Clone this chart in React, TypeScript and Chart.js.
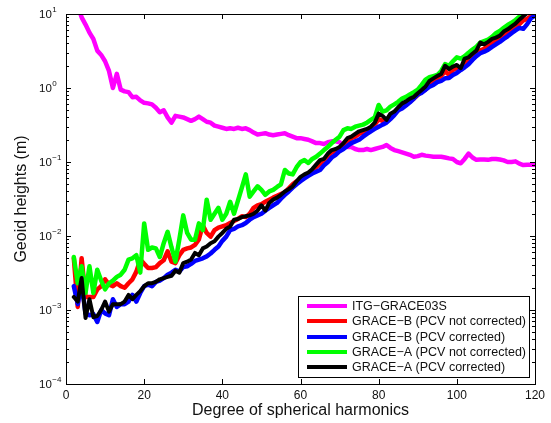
import React, { useEffect, useRef } from "react";
import { Chart, registerables } from "chart.js";

Chart.register(...registerables);

// Degree of spherical harmonics (x categories)
const degrees: number[] = Array.from({ length: 119 }, (_, i) => i + 2);

// ITG-GRACE03S
const itgGrace03s: number[] = [
  20, 13, 9, 7.2, 5.6, 4.6, 3.2, 2.8, 2.3, 1.7,
  1.0, 1.55, 0.95, 0.9, 0.88, 0.75, 0.76, 0.68, 0.63, 0.62,
  0.6, 0.54, 0.47, 0.5, 0.4, 0.34, 0.42, 0.41, 0.4, 0.38,
  0.36, 0.38, 0.41, 0.38, 0.35, 0.34, 0.31, 0.3, 0.29, 0.28,
  0.285, 0.28, 0.29, 0.28, 0.285, 0.27, 0.25, 0.235, 0.24, 0.245,
  0.235, 0.23, 0.235, 0.24, 0.245, 0.23, 0.22, 0.21, 0.21, 0.205,
  0.2, 0.19, 0.18, 0.18, 0.175, 0.185, 0.19, 0.19, 0.185, 0.165,
  0.16, 0.16, 0.15, 0.145, 0.145, 0.15, 0.145, 0.15, 0.155, 0.16,
  0.17, 0.155, 0.145, 0.14, 0.135, 0.13, 0.125, 0.118, 0.12, 0.125,
  0.122, 0.12, 0.118, 0.118, 0.118, 0.115, 0.112, 0.11, 0.1, 0.096,
  0.11, 0.13, 0.115, 0.107, 0.108, 0.108, 0.107, 0.11, 0.11, 0.108,
  0.105, 0.1, 0.1, 0.102, 0.095, 0.091, 0.092, 0.092, 0.092,
];

// GRACE-B (PCV not corrected)
const graceBNotCorrected: number[] = [
  0.005, 0.0011, 0.005, 0.0015, 0.0015, 0.0015, 0.0019, 0.0021, 0.0026, 0.0022,
  0.0021, 0.0023, 0.0021, 0.002, 0.0023, 0.0026, 0.0033, 0.0048, 0.0042, 0.0037,
  0.0037, 0.0038, 0.0043, 0.0047, 0.0062, 0.0045, 0.0043, 0.0055, 0.0065, 0.0068,
  0.007, 0.0076, 0.009, 0.014, 0.011, 0.0098, 0.012, 0.013, 0.0135, 0.014,
  0.015, 0.016, 0.017, 0.0185, 0.018, 0.02, 0.024, 0.026, 0.027, 0.029,
  0.031, 0.033, 0.035, 0.037, 0.039, 0.044, 0.05, 0.055, 0.058, 0.062,
  0.068, 0.072, 0.085, 0.095, 0.105, 0.12, 0.135, 0.14, 0.15, 0.17,
  0.19, 0.21, 0.22, 0.24, 0.25, 0.27, 0.29, 0.32, 0.38, 0.36,
  0.36, 0.42, 0.45, 0.5, 0.58, 0.6, 0.66, 0.72, 0.8, 0.9,
  0.95, 1.1, 1.2, 1.35, 1.45, 1.7, 1.5, 1.75, 1.85, 1.8,
  2.2, 2.35, 2.6, 2.8, 3.2, 3.4, 3.8, 4.1, 4.4, 4.7,
  5.3, 5.6, 6.2, 6.8, 7.3, 8.2, 8.6, 9.4, 10.5,
];

// GRACE-B (PCV corrected)
const graceBCorrected: number[] = [
  0.0021, 0.0012, 0.0022, 0.0009, 0.00085, 0.00088, 0.00069, 0.001, 0.0009, 0.00085,
  0.0014, 0.0011, 0.0012, 0.0012, 0.0013, 0.0016, 0.0013, 0.0017, 0.0021, 0.0022,
  0.0021, 0.0024, 0.0025, 0.0027, 0.003, 0.0032, 0.0035, 0.0033, 0.0038, 0.0039,
  0.0042, 0.0046, 0.0048, 0.005, 0.0053, 0.0058, 0.0065, 0.0072, 0.0086, 0.0098,
  0.012, 0.0125, 0.0135, 0.014, 0.015, 0.0166, 0.018, 0.019, 0.02, 0.022,
  0.024, 0.026, 0.028, 0.032, 0.036, 0.04, 0.045, 0.05, 0.055, 0.06,
  0.065, 0.07, 0.074, 0.078, 0.09, 0.1, 0.115, 0.125, 0.14, 0.15,
  0.165, 0.18, 0.19, 0.2, 0.22, 0.24, 0.26, 0.28, 0.3, 0.32,
  0.34, 0.38, 0.43, 0.5, 0.53, 0.58, 0.64, 0.72, 0.82, 0.86,
  0.95, 1.04, 1.1, 1.2, 1.25, 1.35, 1.36, 1.5, 1.6, 1.75,
  1.9, 2.1, 2.4, 2.7, 2.95, 3.1, 3.3, 3.6, 3.9, 4.2,
  4.6, 5.0, 5.5, 6.0, 6.5, 6.3, 7.3, 8.8, 9.5,
];

// GRACE-A (PCV not corrected)
const graceANotCorrected: number[] = [
  0.0052, 0.0023, 0.0039, 0.0017, 0.0039, 0.0017, 0.0035, 0.0025, 0.0019, 0.0023,
  0.0025, 0.0028, 0.003, 0.0035, 0.0048, 0.005, 0.0055, 0.0032, 0.0148, 0.0065,
  0.007, 0.0068, 0.0052, 0.008, 0.0114, 0.007, 0.0045, 0.009, 0.019, 0.011,
  0.0089, 0.0089, 0.0148, 0.012, 0.031, 0.0166, 0.02, 0.024, 0.0166, 0.02,
  0.029, 0.02, 0.03, 0.045, 0.068, 0.034, 0.04, 0.047, 0.042, 0.036,
  0.04, 0.042, 0.046, 0.05, 0.078, 0.07, 0.068, 0.085, 0.1, 0.106,
  0.097, 0.11, 0.118, 0.13, 0.145, 0.16, 0.18, 0.2, 0.22, 0.27,
  0.285, 0.28, 0.3, 0.31, 0.32, 0.34, 0.37, 0.4, 0.59, 0.48,
  0.5, 0.56, 0.6, 0.65, 0.72, 0.76, 0.82, 0.88, 0.95, 1.1,
  1.3, 1.4, 1.45, 1.5, 1.7, 2.1, 2.0, 2.3, 2.6, 2.5,
  2.7, 3.0, 3.3, 3.6, 4.1, 4.3, 4.5, 4.9, 5.5, 5.9,
  6.5, 7.1, 7.6, 8.3, 9.2, 10.2, 11, 12, 13,
];

// GRACE-A (PCV corrected)
const graceACorrected: number[] = [
  0.0015, 0.0013, 0.0027, 0.00078, 0.0014, 0.0008, 0.00083, 0.001, 0.0013, 0.00095,
  0.0012, 0.0012, 0.0012, 0.0013, 0.0016, 0.0014, 0.0016, 0.0018, 0.0021, 0.0023,
  0.0023, 0.0024, 0.0026, 0.0027, 0.0028, 0.0029, 0.0034, 0.0032, 0.0043, 0.0045,
  0.0048, 0.0059, 0.0055, 0.0068, 0.0072, 0.008, 0.0085, 0.0098, 0.011, 0.0125,
  0.0134, 0.0166, 0.017, 0.018, 0.0185, 0.019, 0.02, 0.022, 0.026, 0.022,
  0.028, 0.031, 0.033, 0.036, 0.04, 0.043, 0.047, 0.055, 0.063, 0.068,
  0.072, 0.08, 0.092, 0.106, 0.11, 0.13, 0.145, 0.15, 0.16, 0.18,
  0.21, 0.22, 0.24, 0.26, 0.27, 0.28, 0.3, 0.34, 0.45, 0.42,
  0.37, 0.45, 0.48, 0.55, 0.62, 0.66, 0.72, 0.76, 0.85, 0.94,
  1.05, 1.25, 1.35, 1.45, 1.55, 2.0, 1.8, 1.95, 2.05, 1.85,
  2.5, 2.6, 2.9, 3.2, 4.1, 3.9, 4.2, 4.6, 4.8, 5.1,
  5.8, 6.2, 6.8, 7.4, 8.4, 9.3, 10.3, 11, 12,
];

const seriesLabels: string[] = [
  "ITG\u2212GRACE03S",
  "GRACE\u2212B (PCV not corrected)",
  "GRACE\u2212B (PCV corrected)",
  "GRACE\u2212A (PCV not corrected)",
  "GRACE\u2212A (PCV corrected)",
];
const seriesValues: number[][] = [
  itgGrace03s,
  graceBNotCorrected,
  graceBCorrected,
  graceANotCorrected,
  graceACorrected,
];
const seriesColors: string[] = ["#ff00ff", "#ff0000", "#0000ff", "#00ff00", "#000000"];

const xTicks: number[] = [0, 20, 40, 60, 80, 100, 120];
const yExponents: number[] = [-4, -3, -2, -1, 0, 1];
const xTitle = "Degree of spherical harmonics";
const yTitle = "Geoid heights (m)";

const FONT = '"Liberation Sans", Arial, Helvetica, sans-serif';

const matlabPlugin = {
  id: "matlabAxes",
  afterDatasetsDraw(chart: any) {
    const ctx = chart.ctx as CanvasRenderingContext2D;
    const { left, right, top, bottom } = chart.chartArea;
    const xs = chart.scales.x;
    const ys = chart.scales.y;
    ctx.save();
    ctx.strokeStyle = "#000";
    ctx.lineWidth = 1;
    // box
    ctx.strokeRect(Math.round(left) + 0.5, Math.round(top) + 0.5, Math.round(right - left), Math.round(bottom - top));
    // x ticks (bottom + top)
    ctx.beginPath();
    xTicks.forEach((v) => {
      const px = Math.round(xs.getPixelForValue(v)) + 0.5;
      ctx.moveTo(px, bottom);
      ctx.lineTo(px, bottom - 5);
      ctx.moveTo(px, top);
      ctx.lineTo(px, top + 5);
    });
    // y ticks major + minor (left + right)
    yExponents.forEach((e) => {
      for (let m = 1; m <= 9; m++) {
        const val = m * Math.pow(10, e);
        if (val > 10 + 1e-9 || val < 1e-4 - 1e-12) continue;
        const py = Math.round(ys.getPixelForValue(val)) + 0.5;
        const len = m === 1 ? 5 : 3;
        ctx.moveTo(left, py);
        ctx.lineTo(left + len, py);
        ctx.moveTo(right, py);
        ctx.lineTo(right - len, py);
      }
    });
    ctx.stroke();

    // x tick labels
    ctx.fillStyle = "#111";
    ctx.font = `12px ${FONT}`;
    ctx.textAlign = "center";
    ctx.textBaseline = "middle";
    xTicks.forEach((v) => {
      ctx.fillText(String(v), xs.getPixelForValue(v), bottom + 12);
    });

    // y tick labels: 10 with superscript exponent
    yExponents.forEach((e) => {
      const py = ys.getPixelForValue(Math.pow(10, e));
      ctx.font = `11.5px ${FONT}`;
      ctx.textAlign = "left";
      ctx.textBaseline = "middle";
      const base = "10";
      const bx = 39;
      ctx.fillText(base, bx, py + 1);
      const bw = ctx.measureText(base).width;
      ctx.font = `8px ${FONT}`;
      const expText = e < 0 ? "\u2212" + String(-e) : String(e);
      ctx.fillText(expText, bx + bw + 0.5, py - 4);
    });

    // axis titles
    ctx.font = `16px ${FONT}`;
    ctx.textAlign = "center";
    ctx.textBaseline = "middle";
    ctx.fillText(xTitle, (left + right) / 2, bottom + 27);
    ctx.save();
    ctx.translate(22, (top + bottom) / 2);
    ctx.rotate(-Math.PI / 2);
    ctx.fillText(yTitle, 0, 0);
    ctx.restore();

    // legend
    const lx = 298, ly = 296, lw = 231, lh = 81;
    ctx.fillStyle = "#fff";
    ctx.fillRect(lx, ly, lw, lh);
    ctx.strokeStyle = "#000";
    ctx.lineWidth = 1;
    ctx.strokeRect(lx + 0.5, ly + 0.5, lw, lh);
    const rowY = [306, 321, 337, 352, 367];
    ctx.font = `12.5px ${FONT}`;
    ctx.textAlign = "left";
    ctx.textBaseline = "middle";
    seriesLabels.forEach((label, i) => {
      ctx.strokeStyle = seriesColors[i];
      ctx.lineWidth = 4;
      ctx.beginPath();
      ctx.moveTo(307, rowY[i]);
      ctx.lineTo(347, rowY[i]);
      ctx.stroke();
      ctx.fillStyle = "#111";
      ctx.fillText(label, 352, rowY[i] + 1);
    });
    ctx.restore();
  },
};

export default function App() {
  const canvasRef = useRef<HTMLCanvasElement | null>(null);

  useEffect(() => {
    const canvas = canvasRef.current;
    if (!canvas) return;
    const orders = [5, 4, 3, 2, 1];
    const datasets = seriesLabels.map((label, i) => ({
      label,
      data: degrees.map((d, j) => ({ x: d, y: seriesValues[i][j] })),
      borderColor: seriesColors[i],
      backgroundColor: seriesColors[i],
      borderWidth: i === 4 ? 4 : 4.5,
      borderJoinStyle: "round" as const,
      borderCapStyle: "round" as const,
      pointRadius: 0,
      tension: 0,
      fill: false,
      order: orders[i],
    }));
    const chart = new Chart(canvas, {
      type: "line",
      data: { datasets },
      options: {
        animation: false,
        responsive: false,
        devicePixelRatio: 1,
        layout: { padding: { left: 66, right: 16, top: 14, bottom: 39 } },
        plugins: { legend: { display: false }, tooltip: { enabled: false } },
        scales: {
          x: { type: "linear", min: 0, max: 120, display: false },
          y: { type: "logarithmic", min: 1e-4, max: 10, display: false },
        },
      },
      plugins: [matlabPlugin],
    });
    return () => chart.destroy();
  }, []);

  return (
    <div style={{ position: "fixed", left: 0, top: 0, width: 551, height: 423, background: "#fff" }}>
      <canvas ref={canvasRef} width={551} height={423} style={{ display: "block" }} />
    </div>
  );
}
